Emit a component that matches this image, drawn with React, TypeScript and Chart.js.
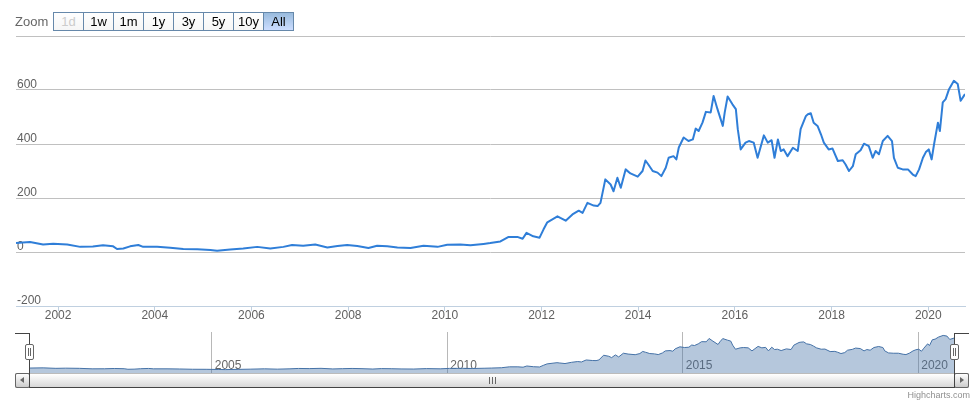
import React, { useEffect, useRef } from 'react';
import { Chart, registerables } from 'chart.js';

Chart.register(...registerables);

// ---- data (decimal years, values) ----
const dates: number[] = [
  2001.13, 2001.42, 2001.69, 2001.90, 2002.19, 2002.46, 2002.72, 2002.93, 2003.14, 2003.22,
  2003.35, 2003.49, 2003.66, 2003.76, 2004.05, 2004.32, 2004.59, 2004.88, 2005.15, 2005.29,
  2005.56, 2005.83, 2006.12, 2006.39, 2006.66, 2006.84, 2007.07, 2007.32, 2007.57, 2007.78,
  2007.98, 2008.19, 2008.42, 2008.60, 2008.81, 2009.02, 2009.29, 2009.56, 2009.85, 2010.05,
  2010.32, 2010.53, 2010.80, 2010.94, 2011.15, 2011.32, 2011.50, 2011.61, 2011.69, 2011.83,
  2011.96, 2012.04, 2012.12, 2012.33, 2012.39, 2012.50, 2012.64, 2012.77, 2012.85, 2012.95,
  2013.08, 2013.16, 2013.22, 2013.32, 2013.43, 2013.49, 2013.57, 2013.64, 2013.74, 2013.84,
  2013.99, 2014.09, 2014.15, 2014.21, 2014.30, 2014.40, 2014.48, 2014.57, 2014.63, 2014.73,
  2014.79, 2014.84, 2014.94, 2015.04, 2015.13, 2015.19, 2015.25, 2015.33, 2015.40, 2015.50,
  2015.56, 2015.64, 2015.75, 2015.79, 2015.85, 2015.95, 2016.02, 2016.06, 2016.12, 2016.22,
  2016.29, 2016.39, 2016.47, 2016.60, 2016.68, 2016.76, 2016.82, 2016.89, 2016.95, 2017.01,
  2017.09, 2017.20, 2017.30, 2017.36, 2017.47, 2017.51, 2017.57, 2017.63, 2017.71, 2017.78,
  2017.84, 2017.94, 2018.02, 2018.13, 2018.23, 2018.29, 2018.36, 2018.44, 2018.50, 2018.60,
  2018.67, 2018.77, 2018.85, 2018.91, 2018.98, 2019.06, 2019.16, 2019.25, 2019.29, 2019.37,
  2019.47, 2019.58, 2019.68, 2019.74, 2019.81, 2019.89, 2019.95, 2020.01, 2020.07, 2020.12,
  2020.20, 2020.24, 2020.30, 2020.36, 2020.43, 2020.53, 2020.61, 2020.67, 2020.76,
];

const values: number[] = [
  33, 37, 28, 31, 28, 19, 20, 25, 21, 11,
  13, 21, 26, 19, 19, 16, 11, 10, 7, 5,
  9, 13, 19, 13, 19, 26, 23, 28, 17, 22,
  26, 22, 15, 23, 21, 17, 15, 23, 19, 27,
  28, 25, 30, 33, 39, 56, 56, 49, 71, 58,
  53, 83, 110, 132, 126, 116, 139, 153, 145, 182,
  172, 170, 182, 269, 250, 225, 275, 238, 306, 291,
  279, 300, 339, 324, 300, 294, 281, 312, 349, 355,
  343, 387, 424, 411, 417, 457, 448, 479, 519, 517,
  578, 529, 467, 517, 576, 547, 529, 455, 380, 405,
  411, 405, 349, 432, 405, 414, 349, 417, 374, 380,
  355, 386, 374, 455, 504, 510, 514, 479, 467, 436,
  405, 380, 383, 337, 340, 324, 300, 318, 362, 377,
  401, 392, 349, 374, 362, 411, 430, 411, 349, 312,
  306, 306, 287, 281, 306, 349, 370, 380, 343, 399,
  479, 448, 554, 566, 603, 634, 622, 560, 585,
];

const xTickYears: number[] = [2002, 2004, 2006, 2008, 2010, 2012, 2014, 2016, 2018, 2020];
const yTickValues: number[] = [-200, 0, 200, 400, 600, 800];
const navTickYears: number[] = [2005, 2010, 2015, 2020];
const zoomButtons: string[] = ['1d', '1w', '1m', '1y', '3y', '5y', '10y', 'All'];

const FONT = '"Liberation Sans", Arial, sans-serif';

export default function App() {
  const mainRef = useRef<HTMLCanvasElement | null>(null);
  const navRef = useRef<HTMLCanvasElement | null>(null);

  useEffect(() => {
    const points = dates.map((d, i) => ({ x: d, y: values[i] }));
    const xMin = dates[0];
    const xMax = dates[dates.length - 1];

    const main = new Chart(mainRef.current as HTMLCanvasElement, {
      type: 'line',
      data: {
        datasets: [
          {
            data: points,
            borderColor: '#2f7ed8',
            borderWidth: 2,
            pointRadius: 0,
            fill: false,
            tension: 0,
            borderJoinStyle: 'round',
          } as any,
        ],
      },
      options: {
        animation: false,
        responsive: false,
        devicePixelRatio: 1,
        events: [],
        layout: { padding: { top: 36, left: 16, right: 15, bottom: 0 } },
        plugins: { legend: { display: false }, tooltip: { enabled: false } },
        scales: {
          x: {
            type: 'linear',
            min: xMin,
            max: xMax,
            afterBuildTicks: (s: any) => {
              s.ticks = xTickYears.map((v) => ({ value: v }));
            },
            afterFit: (s: any) => {
              s.height = 24;
            },
            grid: { drawOnChartArea: false, drawTicks: true, tickLength: 5, color: '#C0D0E0' },
            border: { color: '#C0D0E0', width: 1 },
            ticks: {
              autoSkip: false,
              maxRotation: 0,
              padding: -3,
              color: '#606060',
              font: { family: FONT, size: 12 },
              callback: (v: any) => String(v),
            },
          },
          y: {
            type: 'linear',
            min: -200,
            max: 800,
            afterBuildTicks: (s: any) => {
              s.ticks = yTickValues.map((v) => ({ value: v }));
            },
            afterFit: (s: any) => {
              s.width = 0;
            },
            grid: {
              drawTicks: false,
              color: (ctx: any) => (ctx.tick && ctx.tick.value === -200 ? 'rgba(0,0,0,0)' : '#C0C0C0'),
            },
            border: { display: false },
            ticks: {
              mirror: true,
              crossAlign: 'near',
              padding: 1,
              labelOffset: -5,
              color: '#606060',
              font: { family: FONT, size: 12 },
              callback: (v: any) => (v === 800 ? '' : String(v)),
            },
          },
        },
      } as any,
    });

    const vMin = Math.min(...values);
    const vMax = Math.max(...values);
    const range = vMax - vMin;
    const navLo = vMin - 0.1 * range;
    const navHi = vMax + 0.1 * range;

    const nav = new Chart(navRef.current as HTMLCanvasElement, {
      type: 'line',
      data: {
        datasets: [
          {
            data: points,
            borderColor: '#4572A7',
            borderWidth: 1,
            backgroundColor: 'rgba(69,114,167,0.4)',
            fill: 'start',
            pointRadius: 0,
            tension: 0,
          } as any,
        ],
      },
      options: {
        animation: false,
        responsive: false,
        devicePixelRatio: 1,
        events: [],
        layout: { padding: { top: 6, left: 29.5, right: 26, bottom: 0 } },
        plugins: { legend: { display: false }, tooltip: { enabled: false } },
        scales: {
          x: {
            type: 'linear',
            position: { y: navLo },
            min: xMin,
            max: xMax,
            afterBuildTicks: (s: any) => {
              s.ticks = navTickYears.map((v) => ({ value: v }));
            },
            grid: { drawTicks: false, color: '#B8B8B8' },
            border: { display: false },
            ticks: {
              autoSkip: false,
              maxRotation: 0,
              align: 'start',
              labelOffset: 3,
              padding: -15,
              color: '#666',
              font: { family: FONT, size: 12 },
              callback: (v: any) => String(v),
            },
          },
          y: {
            display: false,
            min: navLo,
            max: navHi,
          },
        },
      } as any,
    });

    return () => {
      main.destroy();
      nav.destroy();
    };
  }, []);

  const abs = (s: React.CSSProperties): React.CSSProperties => ({ position: 'absolute', boxSizing: 'border-box', ...s });
  const btnGrad = 'linear-gradient(#FFFFFF, #CCCCCC)';

  return (
    <div style={{ position: 'absolute', left: 0, top: 0, width: 980, height: 404, background: '#fff', fontFamily: FONT, overflow: 'hidden' }}>
      <canvas ref={mainRef} width={980} height={330} style={{ position: 'absolute', left: 0, top: 0 }} />
      <canvas ref={navRef} width={980} height={47} style={{ position: 'absolute', left: 0, top: 326 }} />

      {/* range selector */}
      <div style={abs({ left: 15, top: 14, fontSize: 13, lineHeight: '16px', color: '#666' })}>Zoom</div>
      {zoomButtons.map((b, i) => {
        const selected = b === 'All';
        const disabled = b === '1d';
        return (
          <div
            key={b}
            style={abs({
              left: 53 + i * 30,
              top: 12,
              width: 31,
              height: 19,
              border: '1px solid #6688AA',
              background: selected ? 'linear-gradient(#99BBDD, #CCDDFF)' : 'linear-gradient(#FEFEFE, #F6F6F6)',
              color: disabled ? '#CCC' : '#000',
              fontSize: 13,
              lineHeight: '17px',
              textAlign: 'center',
              zIndex: selected ? 2 : 1,
            })}
          >
            {b}
          </div>
        );
      })}

      {/* scrollbar track */}
      <div style={abs({ left: 15, top: 373, width: 954, height: 15, background: 'linear-gradient(#EEE, #FFF)', border: '1px solid #CCC' })} />
      {/* scrollbar bar */}
      <div style={abs({ left: 29, top: 373, width: 926, height: 15, background: 'linear-gradient(#FFFFFF, #D8D8D8)', border: '1px solid #BBB' })} />
      {[489, 492, 495].map((x) => (
        <div key={x} style={abs({ left: x, top: 377, width: 1, height: 7, background: '#666' })} />
      ))}
      {/* buttons */}
      <div style={abs({ left: 15, top: 373, width: 15, height: 15, border: '1px solid #666', borderRadius: 2, background: btnGrad })}>
        <div style={{ position: 'absolute', left: 4, top: 3, width: 0, height: 0, borderTop: '3.5px solid transparent', borderBottom: '3.5px solid transparent', borderRight: '4px solid #666' }} />
      </div>
      <div style={abs({ left: 954, top: 373, width: 15, height: 15, border: '1px solid #666', borderRadius: 2, background: btnGrad })}>
        <div style={{ position: 'absolute', left: 5, top: 3, width: 0, height: 0, borderTop: '3.5px solid transparent', borderBottom: '3.5px solid transparent', borderLeft: '4px solid #666' }} />
      </div>

      {/* navigator outline */}
      <div style={abs({ left: 15, top: 333, width: 15, height: 1, background: '#444' })} />
      <div style={abs({ left: 29, top: 333, width: 1, height: 55, background: '#444' })} />
      <div style={abs({ left: 29, top: 387, width: 926, height: 1, background: '#444' })} />
      <div style={abs({ left: 954, top: 333, width: 1, height: 55, background: '#444' })} />
      <div style={abs({ left: 954, top: 333, width: 15, height: 1, background: '#444' })} />

      {/* handles */}
      {[29, 954].map((x) => (
        <div key={x} style={abs({ left: x - 4, top: 344, width: 9, height: 16, border: '1px solid #666', borderRadius: 2, background: '#FFF' })}>
          <div style={{ position: 'absolute', left: 2, top: 3, width: 1, height: 8, background: '#666' }} />
          <div style={{ position: 'absolute', left: 4, top: 3, width: 1, height: 8, background: '#666' }} />
        </div>
      ))}

      {/* credits */}
      <div style={abs({ left: 820, top: 390, width: 150, textAlign: 'right', fontSize: 9, lineHeight: '11px', color: '#909090' })}>Highcharts.com</div>
    </div>
  );
}
